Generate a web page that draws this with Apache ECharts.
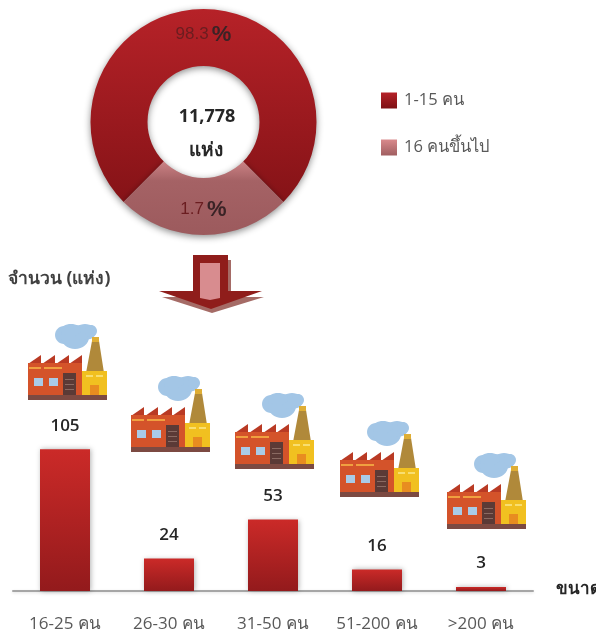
<!DOCTYPE html>
<html>
<head>
<meta charset="utf-8">
<title>chart</title>
<script src="https://cdn.jsdelivr.net/npm/echarts@6/dist/echarts.min.js"></script>
<style>
    html, body {margin: 0; padding: 0; background: #fff;}
    #chart {width: 596px; height: 635px;}
</style>
</head>
<body>
<div id="chart"></div>
<script>
    // donut: the printed shares, and the arc each slice really takes in the picture
    var shareNames = ['1-15 คน', '16 คนขึ้นไป'];
    var shareLabels = ['98.3', '1.7'];
    var shareArcs = [75, 25];
    var totalText = '11,778';
    var unitText = 'แห่ง';

    // bars
    var sizeNames = ['16-25 คน', '26-30 คน', '31-50 คน', '51-200 คน', '>200 คน'];
    var sizeCounts = [105, 24, 53, 16, 3];

    var uiFont = '"Open Sans", "Noto Sans", sans-serif';

    function vGrad(top, bottom) {
        return new echarts.graphic.LinearGradient(0, 0, 0, 1, [
            {offset: 0, color: top},
            {offset: 1, color: bottom}
        ]);
    }

    // whole-donut gradient, so both slices shade along the same vertical
    function donutGrad(stops) {
        return {type: 'linear', global: true, x: 0, y: 9, x2: 0, y2: 235, colorStops: stops};
    }

    function poly(points, fill, z) {
        return {type: 'polygon', z: z || 5, shape: {points: points}, style: {fill: fill}};
    }
    function box(x, y, w, h, fill) {
        return {type: 'rect', z: 5, shape: {x: x, y: y, width: w, height: h}, style: {fill: fill}};
    }
    function puff(cx, cy, rx, ry, fill) {
        return {type: 'ellipse', z: 5, shape: {cx: cx, cy: cy, rx: rx, ry: ry}, style: {fill: fill}};
    }

    // factory icon, 79x77
    function factory(x, y) {
        var cloud = '#a3c6e6';
        var kids = [
            // cloud
            puff(36, 12, 9, 9, cloud), puff(47, 14, 14, 12, cloud),
            puff(57, 9, 11, 8, cloud), puff(43, 7, 10, 6, cloud), puff(63, 8, 6, 6, cloud),
            // chimney
            poly([[64, 18], [71, 18], [76, 50], [58, 50]], '#b0893a'),
            poly([[64, 14], [71, 14], [71, 19], [64, 19]], '#dfae35'),
            // saw roof
            poly([[0, 41], [13, 32], [13, 41]], '#b93a24'),
            poly([[14, 41], [27, 32], [27, 41]], '#b93a24'),
            poly([[28, 41], [41, 32], [41, 41]], '#b93a24'),
            poly([[41, 41], [54, 32], [54, 41]], '#b93a24'),
            // walls
            box(0, 40, 54, 32, '#d4532a'),
            box(54, 48, 25, 24, '#f1c020'),
            box(1, 44, 12, 2, '#f0a040'),
            box(16, 44, 18, 2, '#f0a040'),
            box(58, 52, 7, 2, '#f8de70'),
            box(68, 52, 7, 2, '#f8de70'),
            box(6, 55, 9, 8, '#a9cbe8'),
            box(21, 55, 9, 8, '#a9cbe8'),
            box(35, 50, 13, 22, '#5b3a36'),
            box(37, 56, 9, 1, '#8a6a62'),
            box(37, 61, 9, 1, '#8a6a62'),
            box(37, 66, 9, 1, '#8a6a62'),
            box(62, 62, 9, 10, '#e88c20'),
            box(0, 72, 79, 5, '#7c4a42')
        ];
        return {type: 'group', x: x, y: y, children: kids};
    }

    var factorySpots = [[28, 323], [131, 375], [235, 392], [340, 420], [447, 452]];

    var graphics = factorySpots.map(function (p) {
        return factory(p[0], p[1]);
    });

    // down arrow between donut and bars
    graphics.push(poly([[228, 260], [231, 260], [231, 297], [264, 297], [212, 313], [162, 297], [228, 297]], '#a56b66', 4));
    graphics.push(poly([[193, 255], [228, 255], [228, 291], [262, 291], [211, 309], [159, 291], [193, 291]], '#8f1d1b', 5));
    graphics.push(poly([[200, 263], [220, 263], [220, 298], [210, 300], [200, 298]], '#d88c8f', 6));

    var chart = echarts.init(document.getElementById('chart'));

    chart.setOption({
        animation: false,
        textStyle: {fontFamily: uiFont},
        title: [
            {text: totalText, left: 207, top: 108, padding: 0, textAlign: 'center',
                textStyle: {fontSize: 18, fontWeight: 'bold', color: '#262626', fontFamily: uiFont}},
            {text: unitText, left: 206, top: 141, padding: 0, textAlign: 'center',
                textStyle: {fontSize: 19, fontWeight: 'bold', color: '#262626', fontFamily: uiFont}},
            {text: 'จำนวน (แห่ง)', left: 8, top: 270, padding: 0,
                textStyle: {fontSize: 17.5, fontWeight: 'bold', color: '#404040', fontFamily: uiFont}},
            {text: 'ขนาด', left: 556, top: 581, padding: 0,
                textStyle: {fontSize: 17, fontWeight: 'bold', color: '#262626', fontFamily: uiFont}}
        ],
        legend: {
            orient: 'vertical',
            left: 381,
            top: 92,
            padding: 0,
            itemWidth: 16,
            itemHeight: 16,
            itemGap: 30,
            icon: 'rect',
            selectedMode: false,
            textStyle: {fontSize: 16.5, color: '#595959', fontFamily: uiFont, padding: [2, 0, 0, 2]},
            data: [
                {name: shareNames[0], itemStyle: {color: vGrad('#b62228', '#7d1014')}},
                {name: shareNames[1], itemStyle: {color: vGrad('#d98a8c', '#a05e60')}}
            ]
        },
        grid: {left: 13, width: 520, top: 390, height: 201},
        xAxis: {
            type: 'category',
            data: sizeNames,
            axisTick: {show: false},
            axisLine: {lineStyle: {color: '#a6a6a6', width: 2, shadowColor: 'rgba(0,0,0,0.12)', shadowBlur: 3, shadowOffsetY: 1}},
            axisLabel: {margin: 25, fontSize: 17, color: '#595959', interval: 0}
        },
        yAxis: {type: 'value', min: 0, max: 149, show: false},
        series: [
            {
                type: 'pie',
                center: [203.5, 122],
                radius: [56, 113],
                startAngle: 225,
                clockwise: true,
                silent: true,
                label: {
                    position: 'inside',
                    formatter: function (p) {
                        return '{num|' + shareLabels[p.dataIndex] + '} {pct|%}';
                    },
                    rich: {
                        num: {fontSize: 17, color: '#6b1d20', fontFamily: '"Liberation Sans", sans-serif'},
                        pct: {fontSize: 22, fontWeight: 'bold', color: '#3a2326', fontFamily: '"Liberation Sans", sans-serif'}
                    }
                },
                labelLine: {show: false},
                itemStyle: {shadowColor: 'rgba(0,0,0,0.45)', shadowBlur: 7, shadowOffsetY: 2},
                data: [
                    {name: shareNames[0], value: shareArcs[0], itemStyle: {color: donutGrad([
                        {offset: 0, color: '#b62228'},
                        {offset: 1, color: '#7d1014'}
                    ])}},
                    {name: shareNames[1], value: shareArcs[1], itemStyle: {color: donutGrad([
                        {offset: 0.68, color: '#c98083'},
                        {offset: 0.76, color: '#a56265'},
                        {offset: 1, color: '#9c5a5d'}
                    ])}}
                ]
            },
            {
                type: 'bar',
                barWidth: 50,
                data: sizeCounts,
                silent: true,
                itemStyle: {
                    color: vGrad('#cb2a28', '#931a1c'),
                    shadowColor: 'rgba(0,0,0,0.3)',
                    shadowBlur: 5,
                    shadowOffsetX: 1
                },
                label: {
                    show: true,
                    position: 'top',
                    distance: 15,
                    fontSize: 17,
                    fontWeight: 600,
                    color: '#262626'
                }
            }
        ],
        graphic: graphics
    });
</script>
</body>
</html>
